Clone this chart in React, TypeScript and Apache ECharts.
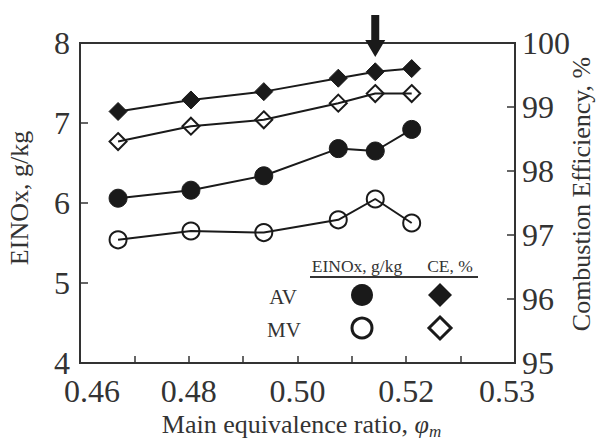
import React, { useEffect, useRef } from "react";
import * as echarts from "echarts";

// Main equivalence ratio (x) for each measured point
const phi = [0.467, 0.4804, 0.4938, 0.5075, 0.5143, 0.521];
// EINOx, g/kg (left axis)
const einoxAV = [6.06, 6.16, 6.34, 6.68, 6.65, 6.92];
const einoxMV = [5.54, 5.65, 5.63, 5.79, 6.05, 5.75];
// Combustion efficiency, % (right axis)
const ceAV = [98.93, 99.11, 99.24, 99.45, 99.55, 99.6];
const ceMV = [98.46, 98.7, 98.8, 99.06, 99.21, 99.21];

// X tick labels as printed on the figure
const xTickValues = [0.46, 0.48, 0.5, 0.52, 0.54];
const xTickLabels = ["0.46", "0.48", "0.50", "0.52", "0.53"];
const arrowIndex = 4;

const FONT = "'Liberation Serif', 'Times New Roman', Times, serif";
const INK = "#1a1a1a";
const AXIS = "#333";
const TICK = 32;
const TITLE = 26;

export default function App() {
  const ref = useRef<HTMLDivElement>(null);
  useEffect(() => {
    document.body.style.margin = "0";
    const chart = echarts.init(ref.current!, null, { renderer: "svg" });
    const pair = (ys: number[]) => phi.map((x, i) => [x, ys[i]]);
    const lineStyle = { color: INK, width: 2 };
    const filled = { color: INK, borderColor: INK, borderWidth: 1 };
    const open = { color: "rgba(0,0,0,0)", borderColor: INK, borderWidth: 2 };
    chart.setOption({
      animation: false,
      backgroundColor: "#fff",
      textStyle: { fontFamily: FONT, color: AXIS },
      grid: {
        left: 80,
        right: 91,
        top: 43,
        bottom: 77,
        show: true,
        borderColor: AXIS,
        borderWidth: 2,
        containLabel: false,
        outerBoundsMode: "none",
      },
      xAxis: {
        type: "value",
        min: 0.46,
        max: 0.54,
        interval: 0.01,
        axisLine: { lineStyle: { color: AXIS, width: 2 } },
        axisTick: { inside: true, length: 7, lineStyle: { color: AXIS, width: 1.5 } },
        splitLine: { show: false },
        axisLabel: {
          margin: 12,
          fontSize: TICK,
          fontFamily: FONT,
          color: AXIS,
          showMinLabel: true,
          showMaxLabel: true,
          formatter: (v: number) => {
            const i = xTickValues.findIndex((t) => Math.abs(t - v) < 1e-6);
            if (i < 0) return "";
            if (i === 0) return "{l|" + xTickLabels[i] + "}";
            if (i === xTickValues.length - 1) return "{r|" + xTickLabels[i] + "}";
            return xTickLabels[i];
          },
          rich: {
            l: { fontSize: TICK, fontFamily: FONT, color: AXIS, padding: [0, 0, 0, 24] },
            r: { fontSize: TICK, fontFamily: FONT, color: AXIS, padding: [0, 16, 0, 0] },
          },
        },
        name: "{a|Main equivalence ratio, }{i|φ}{s|m}",
        nameLocation: "middle",
        nameMoveOverlap: false,
        nameGap: 48,
        nameTextStyle: {
          padding: [0, 0, 0, 8],
          rich: {
            a: { fontSize: TITLE, fontFamily: FONT, color: AXIS, lineHeight: 28, verticalAlign: "top" },
            i: { fontSize: TITLE, fontFamily: FONT, color: AXIS, fontStyle: "italic", lineHeight: 28, verticalAlign: "top" },
            s: { fontSize: 17, fontFamily: FONT, color: AXIS, fontStyle: "italic", padding: [12, 0, 0, 0], verticalAlign: "top" },
          },
        },
      },
      yAxis: [
        {
          type: "value",
          min: 4,
          max: 8,
          interval: 1,
          axisLine: { show: true, lineStyle: { color: AXIS, width: 2 } },
          axisTick: { show: true, inside: true, length: 8, lineStyle: { color: AXIS, width: 1.5 } },
          splitLine: { show: false },
          axisLabel: { margin: 10, fontSize: TICK, fontFamily: FONT, color: AXIS },
          name: "EINOx, g/kg",
          nameLocation: "middle",
          nameMoveOverlap: false,
          nameRotate: 90,
          nameGap: 48,
          nameTextStyle: { fontSize: TITLE, fontFamily: FONT, color: AXIS, padding: [0, 0, 0, 10] },
        },
        {
          type: "value",
          position: "right",
          min: 95,
          max: 100,
          interval: 1,
          axisLine: { show: true, lineStyle: { color: AXIS, width: 2 } },
          axisTick: { show: true, inside: true, length: 8, lineStyle: { color: AXIS, width: 1.5 } },
          splitLine: { show: false },
          axisLabel: { margin: 7, fontSize: TICK, fontFamily: FONT, color: AXIS },
          name: "Combustion Efficiency, %",
          nameLocation: "middle",
          nameMoveOverlap: false,
          nameRotate: 90,
          nameGap: 53,
          nameTextStyle: { fontSize: TITLE, fontFamily: FONT, color: AXIS, padding: [0, 0, 0, 18] },
        },
      ],
      series: [
        { name: "EINOx AV", type: "line", data: pair(einoxAV), yAxisIndex: 0, symbol: "circle", symbolSize: 18, lineStyle, itemStyle: filled },
        { name: "EINOx MV", type: "line", data: pair(einoxMV), yAxisIndex: 0, symbol: "circle", symbolSize: 17, lineStyle, itemStyle: open },
        { name: "CE AV", type: "line", data: pair(ceAV), yAxisIndex: 1, symbol: "diamond", symbolSize: 18, lineStyle, itemStyle: filled },
        { name: "CE MV", type: "line", data: pair(ceMV), yAxisIndex: 1, symbol: "diamond", symbolSize: 17, lineStyle, itemStyle: open },
      ],
    });

    // Arrow above the highlighted operating point
    const tip = chart.convertToPixel({ xAxisIndex: 0, yAxisIndex: 1 }, [phi[arrowIndex], 99.78]) as number[];
    const ax = tip[0];
    const ay = tip[1];
    const arrow = {
      type: "polygon",
      shape: {
        points: [
          [ax - 4, ay - 42],
          [ax + 4, ay - 42],
          [ax + 4, ay - 17],
          [ax + 10, ay - 17],
          [ax, ay],
          [ax - 10, ay - 17],
          [ax - 4, ay - 17],
        ],
      },
      style: { fill: INK },
      z: 10,
    };
    const diamond = (cx: number, cy: number, h: number) => [
      [cx, cy - h],
      [cx + h, cy],
      [cx, cy + h],
      [cx - h, cy],
    ];
    const txt = (text: string, x: number, y: number, size: number) => ({
      type: "text",
      x,
      y,
      style: { text, fontSize: size, fontFamily: FONT, fill: AXIS, align: "center", verticalAlign: "middle" },
      z: 10,
    });
    chart.setOption({
      graphic: [
        arrow,
        txt("EINOx, g/kg", 357, 266, 17.5),
        txt("CE, %", 450, 266, 17.5),
        { type: "line", shape: { x1: 310, y1: 277, x2: 478, y2: 277 }, style: { stroke: AXIS, lineWidth: 2 }, z: 10 },
        txt("AV", 283, 297, 21),
        txt("MV", 284, 330, 21),
        { type: "circle", shape: { cx: 362, cy: 295, r: 11 }, style: { fill: INK }, z: 10 },
        { type: "circle", shape: { cx: 362, cy: 328, r: 10 }, style: { fill: "none", stroke: INK, lineWidth: 3 }, z: 10 },
        { type: "polygon", shape: { points: diamond(440, 295, 12) }, style: { fill: INK }, z: 10 },
        { type: "polygon", shape: { points: diamond(440, 328, 11) }, style: { fill: "none", stroke: INK, lineWidth: 3 }, z: 10 },
      ],
    });
    return () => chart.dispose();
  }, []);
  return <div ref={ref} style={{ width: 606, height: 440 }} />;
}
